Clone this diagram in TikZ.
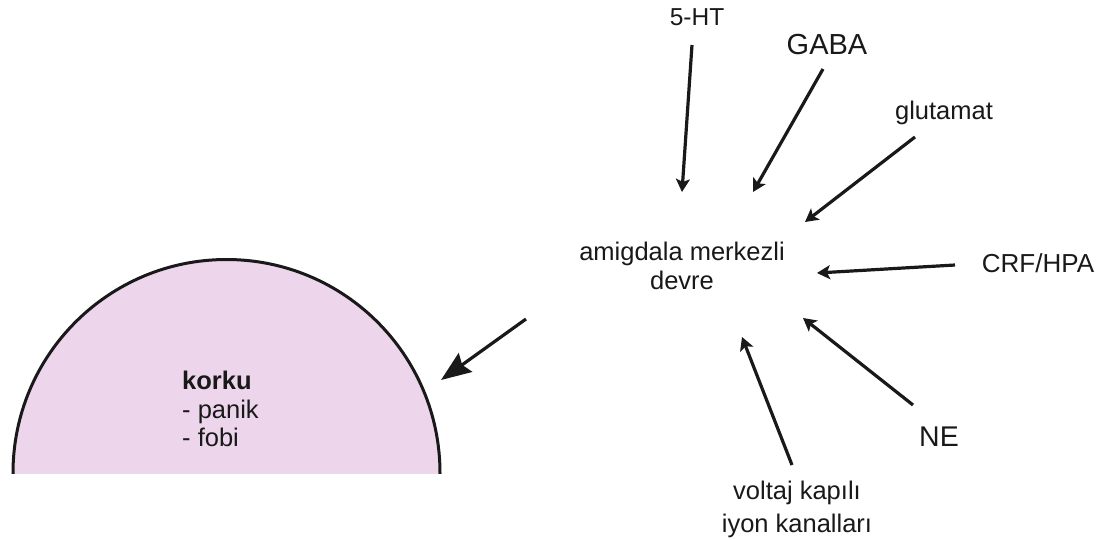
\documentclass[tikz,border=0pt]{standalone}
\usepackage{fontspec}
\setmainfont{Liberation Sans}
\usetikzlibrary{arrows.meta}
\definecolor{korkufill}{RGB}{237,214,236}
\definecolor{ink}{RGB}{25,25,25}
\begin{document}
\begin{tikzpicture}[x=1pt,y=-1pt,
  lbl/.style={font=\fontsize{25.5}{29}\selectfont, text=ink, inner sep=0pt, align=center},
  biglbl/.style={font=\fontsize{29}{32}\selectfont, text=ink, inner sep=0pt},
  arr/.style={draw=ink, line width=3.2pt, -{Stealth[length=13pt,width=14pt,inset=3pt]}},
  bigarr/.style={draw=ink, line width=3.2pt, -{Stealth[length=30pt,width=23pt,inset=4pt]}}]
\useasboundingbox (0,0) rectangle (1096,539);
\fill[white] (0,0) rectangle (1096,539);
% semicircle
\begin{scope}
  \clip (0,0) rectangle (1096,473);
  \draw[ink, line width=3pt, fill=korkufill] (226.5,473) circle (213.5);
\end{scope}
% texts
\node[lbl, font=\fontsize{24.5}{28}\selectfont] (ht) at (697,17) {5-HT};
\node[biglbl] (gaba) at (827,45) {GABA};
\node[lbl] (glu) at (944,113) {glutamat};
\node[lbl, anchor=north] (amig) at (682,241.4) {amigdala merkezli\\devre};
\node[lbl, font=\fontsize{26}{29}\selectfont] (crf) at (1038,263) {CRF/HPA};
\node[biglbl, font=\fontsize{28.5}{32}\selectfont] (ne) at (939,437) {NE};
\node[lbl, anchor=north, font=\fontsize{25.5}{33}\selectfont] (volt) at (797,480.4) {voltaj kapılı\\iyon kanalları};
\node[lbl, anchor=north west, align=left, font=\fontsize{25.5}{28.5}\selectfont] (korku) at (182,371) {\textbf{korku}\\- panik\\- fobi};
% arrow end points
\coordinate (htS) at (692,45);   \coordinate (htT) at (682,192);
\coordinate (gabaS) at (823,69); \coordinate (gabaT) at (753,192);
\coordinate (gluS) at (915,137); \coordinate (gluT) at (805,222);
\coordinate (crfS) at (955,265); \coordinate (crfT) at (817,273);
\coordinate (neS) at (913,405);  \coordinate (neT) at (803,318);
\coordinate (voltS) at (792,465); \coordinate (voltT) at (742,337);
\coordinate (outS) at (526,319); \coordinate (outT) at (441,380);
% arrows
\draw[arr] (htS) -- (htT);
\draw[arr] (gabaS) -- (gabaT);
\draw[arr] (gluS) -- (gluT);
\draw[arr] (crfS) -- (crfT);
\draw[arr] (neS) -- (neT);
\draw[arr] (voltS) -- (voltT);
\draw[bigarr] (outS) -- (outT);
\end{tikzpicture}
\end{document}
